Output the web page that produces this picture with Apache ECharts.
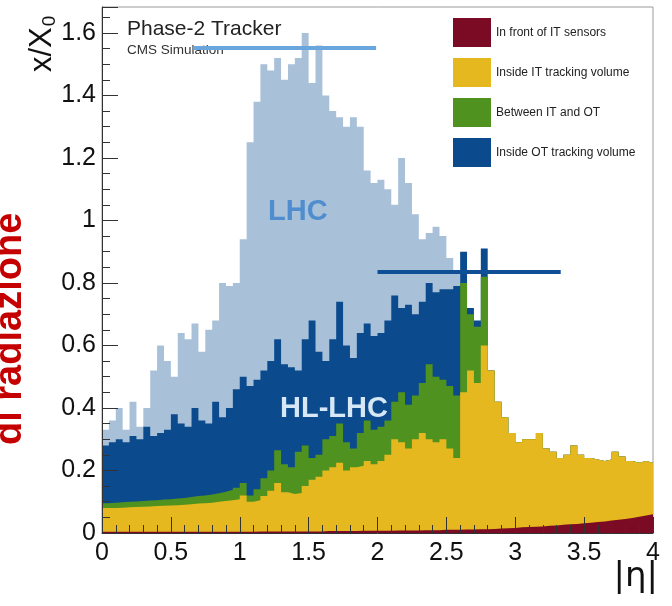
<!DOCTYPE html>
<html>
<head>
<meta charset="utf-8">
<title>Phase-2 Tracker material budget</title>
<script src="https://cdn.jsdelivr.net/npm/echarts@6/dist/echarts.min.js"></script>
<style>
  html, body { margin: 0; padding: 0; background: #fff; }
  #chart { width: 672px; height: 606px; }
</style>
</head>
<body>
<div id="chart"></div>
<script>
// |eta| bins of width 0.05, from 0 to 4
const binWidth = 0.05
const nBins = 80

// LHC (current tracker) total x/X0, drawn behind
const lhc = [
  0.33, 0.36, 0.40, 0.33, 0.42, 0.34, 0.40, 0.52, 0.60, 0.55,
  0.50, 0.64, 0.62, 0.67, 0.58, 0.65, 0.68, 0.80, 0.79, 0.80,
  0.94, 1.25, 1.38, 1.50, 1.48, 1.52, 1.45, 1.50, 1.52, 1.60,
  1.44, 1.56, 1.40, 1.35, 1.33, 1.30, 1.33, 1.30, 1.16, 1.12,
  1.13, 1.10, 1.05, 1.20, 1.12, 1.02, 0.94, 0.96, 0.98, 0.95,
  0.88, 0.83, 0, 0, 0, 0, 0, 0, 0, 0,
  0, 0, 0, 0, 0, 0, 0, 0, 0, 0,
  0, 0, 0, 0, 0, 0, 0, 0, 0, 0
]

// HL-LHC (Phase-2) contributions, stacked bottom to top
const frontIT = [
  0.004, 0.004, 0.004, 0.004, 0.004, 0.004, 0.004, 0.004, 0.004, 0.004,
  0.004, 0.004, 0.004, 0.004, 0.004, 0.004, 0.004, 0.004, 0.004, 0.004,
  0.004, 0.004, 0.005, 0.005, 0.005, 0.005, 0.005, 0.005, 0.005, 0.005,
  0.005, 0.005, 0.006, 0.006, 0.006, 0.006, 0.006, 0.007, 0.007, 0.007,
  0.007, 0.007, 0.008, 0.008, 0.008, 0.008, 0.009, 0.009, 0.009, 0.010,
  0.010, 0.010, 0.011, 0.011, 0.012, 0.012, 0.013, 0.014, 0.015, 0.016,
  0.018, 0.019, 0.020, 0.021, 0.023, 0.024, 0.026, 0.028, 0.029, 0.031,
  0.033, 0.035, 0.037, 0.040, 0.042, 0.045, 0.048, 0.052, 0.056, 0.060
]
const insideIT = [
  0.076, 0.076, 0.077, 0.078, 0.079, 0.080, 0.081, 0.082, 0.083, 0.084,
  0.085, 0.086, 0.088, 0.090, 0.091, 0.093, 0.096, 0.098, 0.101, 0.104,
  0.116, 0.096, 0.100, 0.113, 0.130, 0.155, 0.125, 0.120, 0.123, 0.145,
  0.165, 0.175, 0.194, 0.204, 0.219, 0.194, 0.204, 0.208, 0.223, 0.213,
  0.223, 0.243, 0.292, 0.282, 0.262, 0.292, 0.311, 0.291, 0.281, 0.290,
  0.260, 0.230, 0.439, 0.509, 0.468, 0.588, 0.507, 0.406, 0.355, 0.304,
  0.272, 0.281, 0.280, 0.299, 0.247, 0.236, 0.214, 0.222, 0.251, 0.219,
  0.207, 0.200, 0.193, 0.195, 0.218, 0.200, 0.182, 0.173, 0.174, 0.165
]
const betweenITOT = [
  0.015, 0.017, 0.017, 0.018, 0.018, 0.018, 0.019, 0.019, 0.020, 0.020,
  0.021, 0.022, 0.023, 0.024, 0.025, 0.026, 0.027, 0.030, 0.033, 0.037,
  0.040, 0.020, 0.035, 0.057, 0.065, 0.105, 0.090, 0.085, 0.132, 0.130,
  0.070, 0.070, 0.100, 0.100, 0.125, 0.090, 0.060, 0.105, 0.130, 0.110,
  0.110, 0.110, 0.120, 0.160, 0.140, 0.140, 0.160, 0.240, 0.210, 0.190,
  0.200, 0.200, 0.350, 0.180, 0.180, 0.220, 0, 0, 0, 0,
  0, 0, 0, 0, 0, 0, 0, 0, 0, 0,
  0, 0, 0, 0, 0, 0, 0, 0, 0, 0
]
const insideOT = [
  0.185, 0.193, 0.202, 0.190, 0.209, 0.198, 0.236, 0.205, 0.213, 0.222,
  0.270, 0.238, 0.225, 0.282, 0.240, 0.227, 0.293, 0.238, 0.262, 0.315,
  0.340, 0.350, 0.350, 0.345, 0.350, 0.355, 0.320, 0.320, 0.260, 0.340,
  0.440, 0.330, 0.250, 0.310, 0.390, 0.310, 0.290, 0.320, 0.310, 0.300,
  0.300, 0.320, 0.340, 0.270, 0.320, 0.260, 0.260, 0.260, 0.270, 0.290,
  0.310, 0.350, 0.100, 0.020, 0.020, 0.090, 0, 0, 0, 0,
  0, 0, 0, 0, 0, 0, 0, 0, 0, 0,
  0, 0, 0, 0, 0, 0, 0, 0, 0, 0
]

// average lines drawn on top: [etaFrom, etaTo, x/X0]
const lhcAverage = [0.66, 1.99, 1.552]
const hlAverage = [2.0, 3.33, 0.835]

const legendNames = ['In front of IT sensors', 'Inside IT tracking volume', 'Between IT and OT', 'Inside OT tracking volume']
const xTicks = { min: 0, max: 4, step: 0.5 }
const yTicks = { min: 0, max: 1.683, step: 0.2 }

const colors = {
  lhc: '#a9c0d9',
  front: '#7b0a24',
  it: '#e6b81f',
  between: '#4f921f',
  ot: '#0b4a8d',
  lhcLine: '#6aa6de',
  hlLine: '#0e4f95'
}

// ECharts stacks the x dimension when both axes are 'value', so the stack is summed here
// and the layers are painted from the top one down
const layers = [frontIT, insideIT, betweenITOT, insideOT]
const cumulative = []
let running = new Array(nBins).fill(0)
layers.forEach(l => {
  running = running.map((v, i) => v + l[i])
  cumulative.push(running)
})

// bin edges -> points for a step line (last bin closed at eta = 4)
function toSteps(vals) {
  const pts = []
  for (let i = 0; i < nBins; i++) {
    pts.push([+(i * binWidth).toFixed(2), vals[i]])
  }
  pts.push([+(nBins * binWidth).toFixed(2), vals[nBins - 1]])
  return pts
}

function histSeries(name, vals, color) {
  return {
    name: name,
    type: 'line',
    step: 'end',
    symbol: 'none',
    silent: true,
    lineStyle: { width: 0 },
    areaStyle: { color: color, opacity: 1 },
    itemStyle: { color: color },
    data: toSteps(vals)
  }
}

const font = 'Liberation Sans, Arial, Helvetica, sans-serif'
const chart = echarts.init(document.getElementById('chart'))

chart.setOption({
  animation: false,
  backgroundColor: '#fff',
  textStyle: { fontFamily: font },
  grid: {
    left: 102, right: 19, top: 7, bottom: 73,
    show: true, borderColor: '#9a9a9a', borderWidth: 1
  },
  legend: {
    orient: 'vertical',
    left: 448, top: 13,
    itemWidth: 38, itemHeight: 29, itemGap: 11,
    icon: 'rect',
    selectedMode: false,
    data: legendNames,
    textStyle: { fontSize: 12, color: '#222', fontFamily: font }
  },
  xAxis: {
    type: 'value',
    min: xTicks.min, max: xTicks.max, interval: xTicks.step,
    z: 10,
    axisLine: { show: true, onZero: false, lineStyle: { color: '#333', width: 1 } },
    axisTick: { show: true, inside: true, length: 16, lineStyle: { color: '#333' } },
    minorTick: { show: true, splitNumber: 5, length: 8, lineStyle: { color: '#333' } },
    axisLabel: { fontSize: 25, color: '#111', margin: 8 },
    splitLine: { show: false }
  },
  yAxis: {
    type: 'value',
    min: yTicks.min, max: yTicks.max, interval: yTicks.step,
    z: 10,
    axisLine: { show: true, onZero: false, lineStyle: { color: '#333', width: 1 } },
    axisTick: { show: true, inside: true, length: 16, lineStyle: { color: '#333' } },
    minorTick: { show: true, splitNumber: 4, length: 8, lineStyle: { color: '#333' } },
    axisLabel: { fontSize: 25, color: '#111', margin: 6, showMaxLabel: false },
    splitLine: { show: false }
  },
  series: [
    histSeries('LHC', lhc, colors.lhc),
    histSeries(legendNames[3], cumulative[3], colors.ot),
    histSeries(legendNames[2], cumulative[2], colors.between),
    histSeries(legendNames[1], cumulative[1], colors.it),
    histSeries(legendNames[0], cumulative[0], colors.front),
    {
      type: 'line', symbol: 'none', silent: true, z: 5,
      lineStyle: { color: colors.lhcLine, width: 4 },
      data: [[lhcAverage[0], lhcAverage[2]], [lhcAverage[1], lhcAverage[2]]]
    },
    {
      type: 'line', symbol: 'none', silent: true, z: 5,
      lineStyle: { color: colors.hlLine, width: 4 },
      data: [[hlAverage[0], hlAverage[2]], [hlAverage[1], hlAverage[2]]]
    }
  ],
  graphic: [
    {
      type: 'text', left: 127, top: 19, z: 1,
      style: { text: 'Phase-2 Tracker', fontSize: 21, fill: '#222', fontFamily: font }
    },
    {
      type: 'text', left: 127, top: 43, z: 1,
      style: { text: 'CMS Simulation', fontSize: 13.5, fill: '#333', fontFamily: font }
    },
    {
      type: 'text', left: 268, top: 197, z: 20,
      style: { text: 'LHC', fontSize: 29, fontWeight: 'bold', fill: '#4f8dcf', fontFamily: font }
    },
    {
      type: 'text', left: 280, top: 394, z: 20,
      style: { text: 'HL-LHC', fontSize: 29, fontWeight: 'bold', fill: '#d6e7f6', fontFamily: font }
    },
    {
      type: 'text', x: 26, y: 72, rotation: Math.PI / 2, z: 20,
      style: {
        text: 'x/X{s|0}', fontSize: 31, fill: '#111', fontFamily: font,
        verticalAlign: 'top',
        rich: { s: { fontSize: 19, fill: '#111', fontFamily: font, padding: [14, 0, 0, 1] } }
      }
    },
    {
      type: 'text', x: -8, y: 445, rotation: Math.PI / 2, z: 20,
      style: {
        text: 'di radiazione', fontSize: 38, fontWeight: 'bold', fill: '#c50000',
        fontFamily: font, verticalAlign: 'top'
      }
    },
    {
      type: 'text', right: 14, top: 560, z: 20,
      style: { text: '|η|', fontSize: 34, fill: '#111', fontFamily: 'DejaVu Sans, ' + font }
    }
  ]
})
</script>
</body>
</html>
